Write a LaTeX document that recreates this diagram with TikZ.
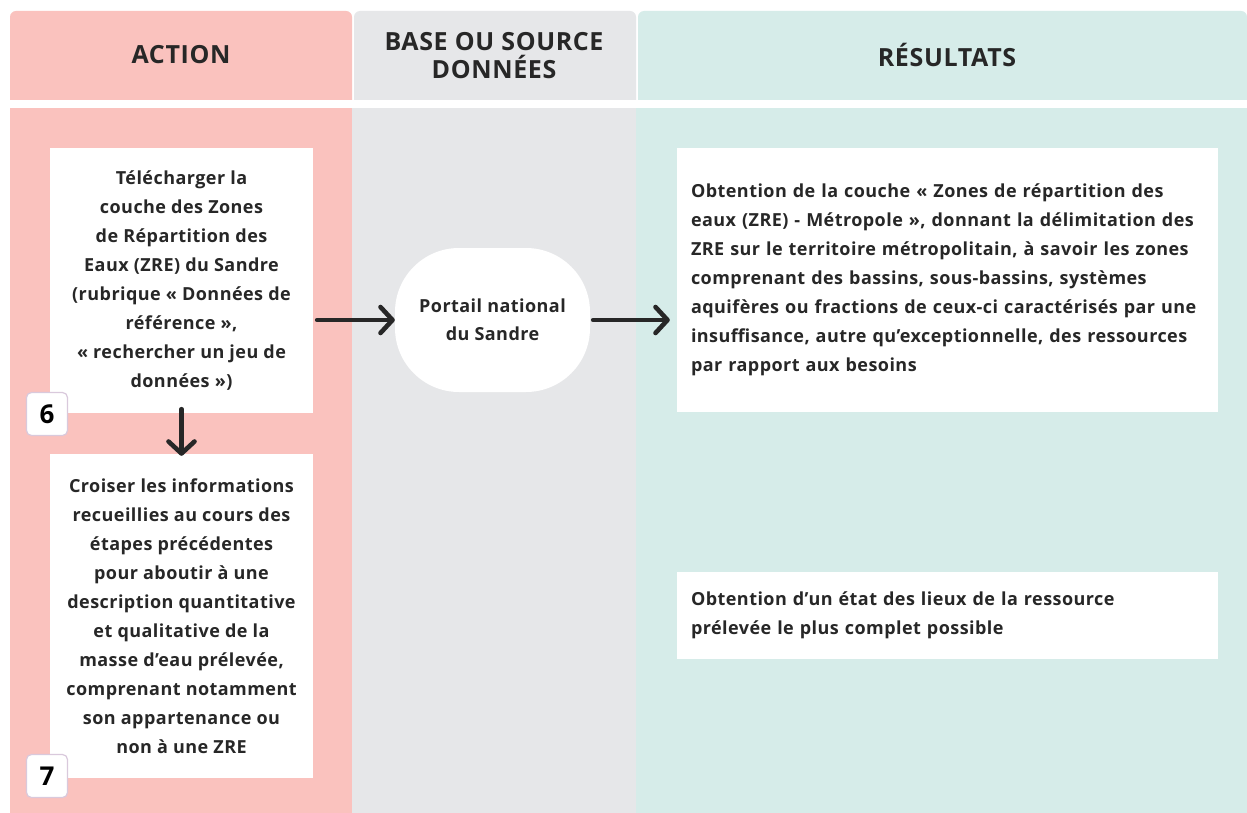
\documentclass[tikz,border=0pt]{standalone}
\usepackage{fontspec}
\setmainfont{Open Sans}
\newfontfamily\widefont[LetterSpace=2.5]{Open Sans}
\usetikzlibrary{arrows.meta,positioning}
\definecolor{actionpink}{HTML}{FAC2BE}
\definecolor{sourcegray}{HTML}{E6E7E9}
\definecolor{resultteal}{HTML}{D6ECE9}
\definecolor{textdark}{HTML}{272727}
\definecolor{badgeline}{HTML}{D9C9DC}
\begin{document}
\begin{tikzpicture}[x=1pt,y=-1pt,
  headtext/.style={font=\widefont\fontsize{25}{28}\selectfont\bfseries,text=textdark,align=center},
  stepbox/.style={fill=white,minimum width=263,inner sep=0pt,text=textdark,align=center,
    font=\widefont\fontsize{18}{29}\selectfont\bfseries},
  resultbox/.style={fill=white,minimum width=541,inner sep=0pt,text=textdark,align=left,
    text width=513,font=\widefont\fontsize{18}{29}\selectfont\bfseries},
  sourcebox/.style={fill=white,minimum width=195,minimum height=144,rounded corners=64,
    text=textdark,align=center,font=\widefont\fontsize{18}{28}\selectfont\bfseries},
  badge/.style={fill=white,draw=badgeline,line width=1.2,rounded corners=5,
    minimum width=41,minimum height=43,inner sep=0pt,text=black,
    font=\fontsize{26}{26}\selectfont\bfseries},
  flow/.style={line width=4.6,line cap=round,draw=textdark,
    -{Straight Barb[length=12,width=26,line width=4.6,round]}}]
\useasboundingbox (0,0) rectangle (1247,813);
\fill[white] (0,0) rectangle (1247,813);
% headers
\fill[actionpink] (10,100) [rounded corners=6]-- (10,11) -- (352,11) [sharp corners]-- (352,100) -- cycle;
\fill[sourcegray] (354,100) [rounded corners=6]-- (354,11) -- (636,11) [sharp corners]-- (636,100) -- cycle;
\fill[resultteal] (638,100) [rounded corners=6]-- (638,11) -- (1247,11) [sharp corners]-- (1247,100) -- cycle;
% columns
\fill[actionpink] (10,108) rectangle (352,813);
\fill[sourcegray] (352,108) rectangle (636,813);
\fill[resultteal] (636,108) rectangle (1247,813);
\node[headtext] (hAction) at (181,55) {ACTION};
\node[headtext] (hSource) at (494,56) {BASE OU SOURCE\\DONNÉES};
\node[headtext] (hResult) at (947,55) {RÉSULTATS};
% steps
\node[stepbox,minimum height=265] (step6) at (181.5,280.5) {Télécharger la\\couche des Zones\\de Répartition des\\Eaux (ZRE) du Sandre\\(rubrique « Données de\\référence »,\\« rechercher un jeu de\\données »)};
\node[stepbox,minimum height=324] (step7) at (181.5,616) {Croiser les informations\\recueillies au cours des\\étapes précédentes\\pour aboutir à une\\description quantitative\\et qualitative de la\\masse d’eau prélevée,\\comprenant notamment\\son appartenance ou\\non à une ZRE};
\node[badge] (num6) at (47,414) {6};
\node[badge] (num7) at (47,776) {7};
% source
\node[sourcebox] (sandre) at (492.5,320) {Portail national\\du Sandre};
% results
\node[resultbox,minimum height=264] (res1) at (947.5,280) {Obtention de la couche « Zones de répartition des\\eaux (ZRE) - Métropole », donnant la délimitation des\\ZRE sur le territoire métropolitain, à savoir les zones\\comprenant des bassins, sous-bassins, systèmes\\aquifères ou fractions de ceux-ci caractérisés par une\\insuffisance, autre qu’exceptionnelle, des ressources\\par rapport aux besoins};
\node[resultbox,minimum height=87] (res2) at (947.5,615.5) {Obtention d’un état des lieux de la ressource\\prélevée le plus complet possible};
% arrows
\draw[flow] ([xshift=4]step6.east |- sandre.west) -- (sandre.west);
\draw[flow] ([xshift=3]sandre.east) -- ([xshift=-7]res1.west |- sandre.east);
\draw[flow] ([yshift=4]step6.south) -- ([yshift=-2]step7.north);
\end{tikzpicture}
\end{document}
